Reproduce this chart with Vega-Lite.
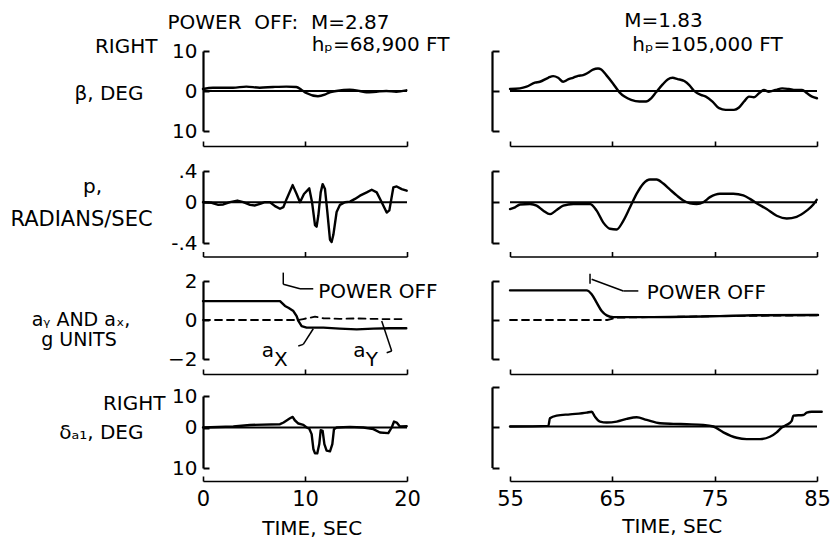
{
"$schema": "https://vega.github.io/schema/vega-lite/v6.json",
"background": "white",
"padding": {"left": 9, "top": 10, "right": 0, "bottom": 0},
"config": {
  "view": {"stroke": null},
  "font": "DejaVu Sans",
  "axis": {"grid": false, "labelFlush": false, "labelOverlap": false, "domainColor": "#000", "tickColor": "#000", "labelColor": "#000", "titleColor": "#000", "labelFont": "DejaVu Sans", "titleFont": "DejaVu Sans", "labelFontSize": 20, "titleFontSize": 20, "titleFontWeight": "normal", "titleAngle": 0},
  "line": {"color": "#000", "strokeWidth": 2.4, "strokeCap": "round", "strokeJoin": "round"},
  "rule": {"color": "#000", "strokeWidth": 2},
  "text": {"color": "#000", "font": "DejaVu Sans", "fontSize": 20}
},
"datasets": {
  "one": [{}],
  "bL": [{"t":0,"v":0.5},{"t":0.98,"v":0.83},{"t":2.94,"v":0.83},{"t":4.25,"v":1.1},{"t":5.56,"v":0.83},{"t":6.86,"v":1.0},{"t":8.17,"v":1.1},{"t":9.15,"v":1.0},{"t":9.64,"v":0.33},{"t":10.13,"v":-0.5},{"t":11.27,"v":-1.3},{"t":11.93,"v":-0.92},{"t":12.42,"v":-0.33},{"t":13.07,"v":0},{"t":14.38,"v":0.33},{"t":15.36,"v":0},{"t":16.01,"v":-0.33},{"t":16.99,"v":-0.17},{"t":17.97,"v":0},{"t":18.95,"v":-0.17},{"t":19.93,"v":0.17}],
  "bR": [{"t":55,"v":0.5},{"t":55.97,"v":0.66},{"t":56.62,"v":1.07},{"t":57.43,"v":2.07},{"t":57.92,"v":2.31},{"t":58.73,"v":3.31},{"t":59.22,"v":3.72},{"t":59.7,"v":3.31},{"t":60.19,"v":2.31},{"t":60.68,"v":2.89},{"t":61.16,"v":3.31},{"t":61.65,"v":3.8},{"t":62.14,"v":3.97},{"t":62.62,"v":4.55},{"t":63.11,"v":5.37},{"t":63.6,"v":5.62},{"t":63.92,"v":5.37},{"t":64.41,"v":3.97},{"t":65.06,"v":1.9},{"t":65.7,"v":-0.33},{"t":66.19,"v":-1.4},{"t":66.84,"v":-2.23},{"t":67.65,"v":-2.64},{"t":68.3,"v":-2.64},{"t":68.79,"v":-1.82},{"t":69.27,"v":-0.33},{"t":69.92,"v":1.65},{"t":70.41,"v":2.89},{"t":70.89,"v":3.31},{"t":71.38,"v":2.98},{"t":72.03,"v":2.48},{"t":72.52,"v":1.49},{"t":73.0,"v":0},{"t":73.65,"v":-0.99},{"t":74.14,"v":-1.4},{"t":74.79,"v":-2.64},{"t":75.43,"v":-4.3},{"t":76.08,"v":-4.71},{"t":76.89,"v":-4.71},{"t":77.38,"v":-4.13},{"t":77.87,"v":-2.64},{"t":78.35,"v":-1.4},{"t":78.84,"v":-1.57},{"t":79.33,"v":-0.58},{"t":79.81,"v":0.25},{"t":80.3,"v":-0.17},{"t":80.95,"v":0.25},{"t":81.6,"v":0.66},{"t":82.25,"v":0.5},{"t":82.89,"v":0.25},{"t":83.54,"v":0.25},{"t":84.03,"v":-0.58},{"t":84.52,"v":-1.4},{"t":85.0,"v":-1.82}],
  "pL": [{"t":0,"v":0},{"t":0.85,"v":-0.006},{"t":1.5,"v":-0.026},{"t":1.99,"v":-0.022},{"t":2.65,"v":0},{"t":3.37,"v":0.021},{"t":3.95,"v":0},{"t":4.61,"v":-0.026},{"t":5.1,"v":-0.032},{"t":5.59,"v":-0.016},{"t":6.08,"v":0},{"t":6.57,"v":0},{"t":7.06,"v":-0.038},{"t":7.55,"v":-0.064},{"t":7.88,"v":-0.048},{"t":8.2,"v":0.042},{"t":8.79,"v":0.219},{"t":9.18,"v":0.105},{"t":9.51,"v":0},{"t":9.9,"v":0.105},{"t":10.42,"v":0.177},{"t":10.69,"v":0},{"t":10.98,"v":-0.224},{"t":11.14,"v":-0.24},{"t":11.31,"v":-0.128},{"t":11.54,"v":0.126},{"t":11.73,"v":0.232},{"t":11.96,"v":0.168},{"t":12.19,"v":-0.096},{"t":12.45,"v":-0.368},{"t":12.61,"v":-0.39},{"t":12.78,"v":-0.32},{"t":13.1,"v":-0.096},{"t":13.43,"v":-0.026},{"t":13.92,"v":0},{"t":14.41,"v":0.008},{"t":14.9,"v":0.042},{"t":15.39,"v":0.084},{"t":16.05,"v":0.126},{"t":16.54,"v":0.16},{"t":17.03,"v":0.126},{"t":17.52,"v":0},{"t":18.01,"v":-0.102},{"t":18.27,"v":-0.08},{"t":18.66,"v":0.189},{"t":18.99,"v":0.202},{"t":19.48,"v":0.168},{"t":19.97,"v":0.147}],
  "pR": [{"t":55,"v":-0.067},{"t":55.49,"v":-0.05},{"t":55.98,"v":-0.023},{"t":56.95,"v":-0.017},{"t":57.6,"v":-0.033},{"t":58.26,"v":-0.083},{"t":58.91,"v":-0.117},{"t":59.56,"v":-0.077},{"t":60.21,"v":-0.033},{"t":61.19,"v":-0.017},{"t":62.82,"v":-0.017},{"t":63.47,"v":-0.083},{"t":64.12,"v":-0.2},{"t":64.77,"v":-0.26},{"t":65.42,"v":-0.267},{"t":66.07,"v":-0.183},{"t":66.73,"v":-0.05},{"t":67.38,"v":0.109},{"t":68.03,"v":0.239},{"t":68.68,"v":0.291},{"t":69.33,"v":0.291},{"t":69.98,"v":0.239},{"t":70.64,"v":0.161},{"t":71.29,"v":0.087},{"t":71.94,"v":0.022},{"t":72.59,"v":-0.01},{"t":73.24,"v":-0.017},{"t":73.89,"v":0},{"t":74.54,"v":0.065},{"t":75.52,"v":0.109},{"t":76.82,"v":0.109},{"t":77.8,"v":0.087},{"t":78.45,"v":0.043},{"t":79.1,"v":-0.01},{"t":80.08,"v":-0.067},{"t":81.06,"v":-0.133},{"t":82.04,"v":-0.16},{"t":83.01,"v":-0.143},{"t":83.99,"v":-0.083},{"t":84.64,"v":-0.023},{"t":84.97,"v":0.03}],
  "axL": [{"t":0,"v":0.97},{"t":7.55,"v":0.97},{"t":8.04,"v":0.72},{"t":8.37,"v":0.63},{"t":8.86,"v":0.46},{"t":9.18,"v":0.2},{"t":9.35,"v":-0.05},{"t":9.67,"v":-0.31},{"t":10.16,"v":-0.39},{"t":11.8,"v":-0.39},{"t":13.4,"v":-0.44},{"t":15.07,"v":-0.48},{"t":16.7,"v":-0.44},{"t":18.3,"v":-0.42},{"t":19.93,"v":-0.42}],
  "ayL": [{"t":0,"v":0},{"t":9.3,"v":0},{"t":9.83,"v":0.05},{"t":10.5,"v":0.12},{"t":10.98,"v":0.17},{"t":11.8,"v":0.09},{"t":13.4,"v":0.06},{"t":15.07,"v":0.08},{"t":17.35,"v":0.05},{"t":19.93,"v":0.05}],
  "axR": [{"t":55,"v":1.52},{"t":62.49,"v":1.52},{"t":62.98,"v":1.32},{"t":63.47,"v":0.89},{"t":63.96,"v":0.46},{"t":64.45,"v":0.24},{"t":65.1,"v":0.15},{"t":69,"v":0.15},{"t":75.5,"v":0.2},{"t":78.8,"v":0.24},{"t":85.1,"v":0.26}],
  "ayR": [{"t":55,"v":0},{"t":64.5,"v":0},{"t":65.5,"v":0.12},{"t":69,"v":0.15},{"t":75.5,"v":0.2},{"t":85,"v":0.24}],
  "dL": [{"t":0,"v":0},{"t":2.97,"v":0.3},{"t":4.6,"v":0.8},{"t":7.55,"v":1.05},{"t":7.9,"v":1.6},{"t":8.53,"v":2.95},{"t":8.79,"v":3.37},{"t":9.0,"v":2.3},{"t":9.35,"v":1.26},{"t":9.84,"v":0.84},{"t":10.16,"v":0},{"t":10.42,"v":-0.3},{"t":10.65,"v":-1.64},{"t":10.82,"v":-5.3},{"t":10.98,"v":-6.4},{"t":11.2,"v":-6.4},{"t":11.4,"v":-4.1},{"t":11.54,"v":-0.66},{"t":11.73,"v":-0.82},{"t":11.9,"v":-4.1},{"t":12.12,"v":-5.7},{"t":12.45,"v":-5.9},{"t":12.68,"v":-4.1},{"t":12.84,"v":-0.41},{"t":13.1,"v":0},{"t":14.41,"v":0.2},{"t":15.72,"v":0},{"t":16.7,"v":-0.41},{"t":17.35,"v":-1.23},{"t":18.17,"v":-1.39},{"t":18.5,"v":0},{"t":18.73,"v":1.9},{"t":18.99,"v":1.58},{"t":19.3,"v":0.3},{"t":19.97,"v":0.4}],
  "dR": [{"t":55,"v":0},{"t":58.75,"v":0.17},{"t":58.9,"v":2.08},{"t":59.56,"v":2.75},{"t":60.86,"v":3.08},{"t":62.49,"v":3.5},{"t":62.98,"v":3.75},{"t":63.3,"v":2.5},{"t":63.8,"v":1.25},{"t":64.45,"v":1.0},{"t":65.43,"v":1.25},{"t":66.4,"v":1.92},{"t":67.38,"v":2.33},{"t":68.36,"v":1.67},{"t":69.66,"v":0.83},{"t":70.96,"v":0.67},{"t":72.27,"v":0.58},{"t":73.89,"v":0.42},{"t":74.87,"v":0},{"t":75.85,"v":-1.42},{"t":77.15,"v":-2.75},{"t":78.13,"v":-3.08},{"t":79.43,"v":-3.08},{"t":80.4,"v":-2.5},{"t":81.06,"v":-1.42},{"t":81.55,"v":-0.25},{"t":82.04,"v":0.42},{"t":82.53,"v":1.42},{"t":82.69,"v":2.75},{"t":83.66,"v":2.92},{"t":83.99,"v":3.5},{"t":84.48,"v":3.75},{"t":85.46,"v":3.75}]
},
"columns": 2,
"spacing": {"row": 28, "column": 103},
"bounds": "flush",
"align": "each",
"concat": [
  {"width": 204, "height": 91.5,
   "layer": [
    {"data": {"name": "bL"}, "mark": {"type": "line", "interpolate": "monotone"},
     "encoding": {
      "x": {"field": "t", "type": "quantitative", "scale": {"domain": [0, 20], "nice": false, "zero": false}, "axis": {"orient": "bottom", "offset": 3.5, "values": [0, 10, 20], "tickSize": -5, "labels": false, "domainWidth": 1.6, "tickWidth": 1.6, "title": "hₚ=68,900 FT", "titleX": 177, "titleY": -96, "titleAlign": "center", "titleBaseline": "alphabetic"}},
      "y": {"field": "v", "type": "quantitative", "scale": {"domain": [-10, 10], "range": [80, 0], "nice": false, "zero": false}, "axis": {"orient": "left", "values": [-10, 0, 10], "tickSize": -6, "labelPadding": 12, "domainWidth": 2.2, "tickWidth": 2, "labelExpr": "datum.value == 0 ? '0' : '10'", "title": "RIGHT", "titleX": -46, "titleY": 1, "titleAlign": "right", "titleBaseline": "alphabetic"}}}},
    {"data": {"name": "one"}, "mark": {"type": "rule"},
     "encoding": {
      "x": {"datum": 0, "scale": {"domain": [0, 20], "nice": false, "zero": false}, "axis": {"orient": "top", "domain": false, "ticks": false, "labels": false, "title": "POWER\u00a0 OFF:\u00a0 M=2.87", "titleX": 75, "titleY": -22.7, "titleAlign": "center", "titleBaseline": "alphabetic"}},
      "x2": {"datum": 20},
      "y": {"datum": 0, "scale": {"domain": [-10, 10], "range": [80, 0], "nice": false, "zero": false}, "axis": {"orient": "left", "domain": false, "ticks": false, "labels": false, "title": "β, DEG", "titleX": -60, "titleY": 48, "titleAlign": "right", "titleBaseline": "alphabetic"}}}}
   ],
   "resolve": {"axis": {"x": "independent", "y": "independent"}}},
  {"width": 307, "height": 91.5,
   "layer": [
    {"data": {"name": "bR"}, "mark": {"type": "line", "interpolate": "monotone"},
     "encoding": {
      "x": {"field": "t", "type": "quantitative", "scale": {"domain": [55, 85], "nice": false, "zero": false}, "axis": {"orient": "bottom", "offset": 3.5, "values": [55, 65, 75, 85], "tickSize": -5, "labels": false, "domainWidth": 1.6, "tickWidth": 1.6, "title": "hₚ=105,000 FT", "titleX": 197, "titleY": -96, "titleAlign": "center", "titleBaseline": "alphabetic"}},
      "y": {"field": "v", "type": "quantitative", "scale": {"domain": [-10, 10], "range": [80, 0], "nice": false, "zero": false}, "axis": {"orient": "left", "offset": 18, "values": [-10, 0, 10], "tickSize": -7, "labels": false, "domainWidth": 2.2, "tickWidth": 2, "title": null}}}},
    {"data": {"name": "one"}, "mark": {"type": "rule"},
     "encoding": {
      "x": {"datum": 55, "scale": {"domain": [55, 85], "nice": false, "zero": false}, "axis": {"orient": "top", "domain": false, "ticks": false, "labels": false, "title": "M=1.83", "titleX": 153, "titleY": -24.3, "titleAlign": "center", "titleBaseline": "alphabetic"}},
      "x2": {"datum": 85},
      "y": {"datum": 0, "scale": {"domain": [-10, 10], "range": [80, 0], "nice": false, "zero": false}, "axis": null}}}
   ],
   "resolve": {"axis": {"x": "independent", "y": "independent"}}},
  {"width": 204, "height": 81.5,
   "layer": [
    {"data": {"name": "pL"}, "mark": {"type": "line"},
     "encoding": {
      "x": {"field": "t", "type": "quantitative", "scale": {"domain": [0, 20], "nice": false, "zero": false}, "axis": {"orient": "bottom", "offset": 4, "values": [0, 10, 20], "tickSize": -5, "labels": false, "domainWidth": 1.6, "tickWidth": 1.6, "title": null}},
      "y": {"field": "v", "type": "quantitative", "scale": {"domain": [-0.4, 0, 0.4], "range": [72, 31.2, 0], "nice": false, "zero": false}, "axis": {"orient": "left", "values": [-0.4, 0, 0.4], "tickSize": -6, "labelPadding": 12, "domainWidth": 2.2, "tickWidth": 2, "labelExpr": "datum.value == 0 ? '0' : (datum.value > 0 ? '.4' : '-.4')", "title": "p,", "titleX": -111, "titleY": 21.5, "titleAlign": "center", "titleBaseline": "alphabetic"}}}},
    {"data": {"name": "one"}, "mark": {"type": "rule"},
     "encoding": {
      "y": {"datum": 0, "scale": {"domain": [-0.4, 0, 0.4], "range": [72, 31.2, 0], "nice": false, "zero": false}, "axis": {"orient": "left", "domain": false, "ticks": false, "labels": false, "title": "RADIANS/SEC", "titleFontSize": 21, "titleX": -122, "titleY": 54.5, "titleAlign": "center", "titleBaseline": "alphabetic"}}}}
   ],
   "resolve": {"axis": {"x": "independent", "y": "independent"}}},
  {"width": 307, "height": 81.5,
   "layer": [
    {"data": {"name": "pR"}, "mark": {"type": "line", "interpolate": "monotone"},
     "encoding": {
      "x": {"field": "t", "type": "quantitative", "scale": {"domain": [55, 85], "nice": false, "zero": false}, "axis": {"orient": "bottom", "offset": 4, "values": [55, 65, 75, 85], "tickSize": -5, "labels": false, "domainWidth": 1.6, "tickWidth": 1.6, "title": null}},
      "y": {"field": "v", "type": "quantitative", "scale": {"domain": [-0.4, 0, 0.4], "range": [72, 31.2, 0], "nice": false, "zero": false}, "axis": {"orient": "left", "offset": 18, "values": [-0.4, 0, 0.4], "tickSize": -7, "labels": false, "domainWidth": 2.2, "tickWidth": 2, "title": null}}}},
    {"data": {"name": "one"}, "mark": {"type": "rule"},
     "encoding": {
      "y": {"datum": 0, "scale": {"domain": [-0.4, 0, 0.4], "range": [72, 31.2, 0], "nice": false, "zero": false}, "axis": null}}}
   ],
   "resolve": {"axis": {"x": "independent", "y": "independent"}}},
  {"width": 204, "height": 78,
   "layer": [
    {"data": {"name": "axL"}, "mark": {"type": "line"},
     "encoding": {
      "x": {"field": "t", "type": "quantitative", "scale": {"domain": [0, 20], "nice": false, "zero": false}, "axis": {"orient": "bottom", "offset": 15, "values": [0, 10, 20], "tickSize": -5, "labels": false, "domainWidth": 1.6, "tickWidth": 1.6, "title": null}},
      "y": {"field": "v", "type": "quantitative", "scale": {"domain": [-2, 2], "range": [78, 0], "nice": false, "zero": false}, "axis": {"orient": "left", "values": [-2, 0, 2], "tickSize": -6, "labelPadding": 12, "domainWidth": 2.2, "tickWidth": 2, "labelExpr": "datum.value == 0 ? '0' : (datum.value > 0 ? '2' : '−2')", "title": "aᵧ AND aₓ,", "titleFontSize": 19, "titleX": -122.5, "titleY": 44, "titleAlign": "center", "titleBaseline": "alphabetic"}}}},
    {"data": {"name": "ayL"}, "mark": {"type": "line", "strokeDash": [7, 5], "strokeWidth": 1.8},
     "encoding": {
      "x": {"field": "t", "type": "quantitative", "scale": {"domain": [0, 20], "nice": false, "zero": false}, "axis": null},
      "y": {"field": "v", "type": "quantitative", "scale": {"domain": [-2, 2], "range": [78, 0], "nice": false, "zero": false}, "axis": {"orient": "left", "domain": false, "ticks": false, "labels": false, "title": "g UNITS", "titleFontSize": 19, "titleX": -124.5, "titleY": 64, "titleAlign": "center", "titleBaseline": "alphabetic"}}}},
    {"data": {"name": "one"}, "mark": {"type": "rule", "strokeWidth": 1.5}, "encoding": {"x": {"datum": 7.87, "scale": {"domain": [0, 20], "nice": false, "zero": false}, "axis": null}, "x2": {"datum": 7.87}, "y": {"datum": 2.43, "scale": {"domain": [-2, 2], "range": [78, 0], "nice": false, "zero": false}, "axis": null}, "y2": {"datum": 1.83}}},
    {"data": {"name": "one"}, "mark": {"type": "rule", "strokeWidth": 1.5}, "encoding": {"x": {"datum": 7.87, "scale": {"domain": [0, 20], "nice": false, "zero": false}, "axis": null}, "x2": {"datum": 9.51}, "y": {"datum": 1.83, "scale": {"domain": [-2, 2], "range": [78, 0], "nice": false, "zero": false}, "axis": null}, "y2": {"datum": 1.6}}},
    {"data": {"name": "one"}, "mark": {"type": "rule", "strokeWidth": 1.5}, "encoding": {"x": {"datum": 9.51, "scale": {"domain": [0, 20], "nice": false, "zero": false}, "axis": null}, "x2": {"datum": 10.81}, "y": {"datum": 1.6, "scale": {"domain": [-2, 2], "range": [78, 0], "nice": false, "zero": false}, "axis": null}, "y2": {"datum": 1.6}}},
    {"data": {"name": "one"}, "mark": {"type": "rule", "strokeWidth": 1.5}, "encoding": {"x": {"datum": 10.81, "scale": {"domain": [0, 20], "nice": false, "zero": false}, "axis": null}, "x2": {"datum": 9.83}, "y": {"datum": -0.45, "scale": {"domain": [-2, 2], "range": [78, 0], "nice": false, "zero": false}, "axis": null}, "y2": {"datum": -1.25}}},
    {"data": {"name": "one"}, "mark": {"type": "rule", "strokeWidth": 1.5}, "encoding": {"x": {"datum": 9.83, "scale": {"domain": [0, 20], "nice": false, "zero": false}, "axis": null}, "x2": {"datum": 9.34}, "y": {"datum": -1.25, "scale": {"domain": [-2, 2], "range": [78, 0], "nice": false, "zero": false}, "axis": null}, "y2": {"datum": -1.33}}},
    {"data": {"name": "one"}, "mark": {"type": "rule", "strokeWidth": 1.5}, "encoding": {"x": {"datum": 17.52, "scale": {"domain": [0, 20], "nice": false, "zero": false}, "axis": null}, "x2": {"datum": 18.5}, "y": {"datum": -0.05, "scale": {"domain": [-2, 2], "range": [78, 0], "nice": false, "zero": false}, "axis": null}, "y2": {"datum": -1.59}}},
    {"data": {"name": "one"}, "mark": {"type": "rule", "strokeWidth": 1.5}, "encoding": {"x": {"datum": 18.5, "scale": {"domain": [0, 20], "nice": false, "zero": false}, "axis": null}, "x2": {"datum": 18.01}, "y": {"datum": -1.59, "scale": {"domain": [-2, 2], "range": [78, 0], "nice": false, "zero": false}, "axis": null}, "y2": {"datum": -1.68}}},
    {"data": {"name": "one"}, "mark": {"type": "text", "align": "left", "baseline": "alphabetic"}, "encoding": {"x": {"datum": 11.3, "scale": {"domain": [0, 20], "nice": false, "zero": false}, "axis": null}, "y": {"datum": 1.14, "scale": {"domain": [-2, 2], "range": [78, 0], "nice": false, "zero": false}, "axis": null}, "text": {"value": "POWER OFF"}}},
    {"data": {"name": "one"}, "mark": {"type": "text", "align": "left", "baseline": "alphabetic"}, "encoding": {"x": {"datum": 5.75, "scale": {"domain": [0, 20], "nice": false, "zero": false}, "axis": null}, "y": {"datum": -1.88, "scale": {"domain": [-2, 2], "range": [78, 0], "nice": false, "zero": false}, "axis": null}, "text": {"value": "a"}}},
    {"data": {"name": "one"}, "mark": {"type": "text", "align": "left", "baseline": "alphabetic"}, "encoding": {"x": {"datum": 6.95, "scale": {"domain": [0, 20], "nice": false, "zero": false}, "axis": null}, "y": {"datum": -2.36, "scale": {"domain": [-2, 2], "range": [78, 0], "nice": false, "zero": false}, "axis": null}, "text": {"value": "X"}}},
    {"data": {"name": "one"}, "mark": {"type": "text", "align": "left", "baseline": "alphabetic"}, "encoding": {"x": {"datum": 14.74, "scale": {"domain": [0, 20], "nice": false, "zero": false}, "axis": null}, "y": {"datum": -1.88, "scale": {"domain": [-2, 2], "range": [78, 0], "nice": false, "zero": false}, "axis": null}, "text": {"value": "a"}}},
    {"data": {"name": "one"}, "mark": {"type": "text", "align": "left", "baseline": "alphabetic"}, "encoding": {"x": {"datum": 15.95, "scale": {"domain": [0, 20], "nice": false, "zero": false}, "axis": null}, "y": {"datum": -2.36, "scale": {"domain": [-2, 2], "range": [78, 0], "nice": false, "zero": false}, "axis": null}, "text": {"value": "Y"}}}
   ],
   "resolve": {"axis": {"x": "independent", "y": "independent"}}},
  {"width": 307, "height": 78,
   "layer": [
    {"data": {"name": "axR"}, "mark": {"type": "line", "interpolate": "monotone"},
     "encoding": {
      "x": {"field": "t", "type": "quantitative", "scale": {"domain": [55, 85], "nice": false, "zero": false}, "axis": {"orient": "bottom", "offset": 15, "values": [55, 65, 75, 85], "tickSize": -5, "labels": false, "domainWidth": 1.6, "tickWidth": 1.6, "title": null}},
      "y": {"field": "v", "type": "quantitative", "scale": {"domain": [-2, 2], "range": [78, 0], "nice": false, "zero": false}, "axis": {"orient": "left", "offset": 18, "values": [-2, 0, 2], "tickSize": -7, "labels": false, "domainWidth": 2.2, "tickWidth": 2, "title": null}}}},
    {"data": {"name": "ayR"}, "mark": {"type": "line", "strokeDash": [7, 5], "strokeWidth": 1.8},
     "encoding": {
      "x": {"field": "t", "type": "quantitative", "scale": {"domain": [55, 85], "nice": false, "zero": false}, "axis": null},
      "y": {"field": "v", "type": "quantitative", "scale": {"domain": [-2, 2], "range": [78, 0], "nice": false, "zero": false}, "axis": null}}},
    {"data": {"name": "one"}, "mark": {"type": "rule", "strokeWidth": 1.5}, "encoding": {"x": {"datum": 62.82, "scale": {"domain": [55, 85], "nice": false, "zero": false}, "axis": null}, "x2": {"datum": 62.82}, "y": {"datum": 2.37, "scale": {"domain": [-2, 2], "range": [78, 0], "nice": false, "zero": false}, "axis": null}, "y2": {"datum": 1.86}}},
    {"data": {"name": "one"}, "mark": {"type": "rule", "strokeWidth": 1.5}, "encoding": {"x": {"datum": 62.98, "scale": {"domain": [55, 85], "nice": false, "zero": false}, "axis": null}, "x2": {"datum": 66.07}, "y": {"datum": 2.09, "scale": {"domain": [-2, 2], "range": [78, 0], "nice": false, "zero": false}, "axis": null}, "y2": {"datum": 1.49}}},
    {"data": {"name": "one"}, "mark": {"type": "rule", "strokeWidth": 1.5}, "encoding": {"x": {"datum": 66.07, "scale": {"domain": [55, 85], "nice": false, "zero": false}, "axis": null}, "x2": {"datum": 67.54}, "y": {"datum": 1.49, "scale": {"domain": [-2, 2], "range": [78, 0], "nice": false, "zero": false}, "axis": null}, "y2": {"datum": 1.49}}},
    {"data": {"name": "one"}, "mark": {"type": "text", "align": "left", "baseline": "alphabetic"}, "encoding": {"x": {"datum": 68.36, "scale": {"domain": [55, 85], "nice": false, "zero": false}, "axis": null}, "y": {"datum": 1.06, "scale": {"domain": [-2, 2], "range": [78, 0], "nice": false, "zero": false}, "axis": null}, "text": {"value": "POWER OFF"}}}
   ],
   "resolve": {"axis": {"x": "independent", "y": "independent"}}},
  {"width": 204, "height": 81,
   "layer": [
    {"data": {"name": "dL"}, "mark": {"type": "line"},
     "encoding": {
      "x": {"field": "t", "type": "quantitative", "scale": {"domain": [0, 20], "nice": false, "zero": false}, "axis": {"orient": "bottom", "offset": 13, "values": [0, 10, 20], "tickSize": -5, "labelPadding": 12, "labelFontSize": 21, "domainWidth": 1.6, "tickWidth": 1.6, "title": "TIME, SEC", "titleX": 108.7, "titleY": 53, "titleAlign": "center", "titleBaseline": "alphabetic"}},
      "y": {"field": "v", "type": "quantitative", "scale": {"domain": [-10, 0, 10], "range": [81, 40.5, 9], "nice": false, "zero": false}, "axis": {"orient": "left", "values": [-10, 0, 10], "tickSize": -6, "labelPadding": 12, "domainWidth": 2.2, "tickWidth": 2, "labelExpr": "datum.value == 0 ? '0' : '10'", "title": "RIGHT", "titleX": -38, "titleY": 22, "titleAlign": "right", "titleBaseline": "alphabetic"}}}},
    {"data": {"name": "one"}, "mark": {"type": "rule"},
     "encoding": {
      "y": {"datum": 0, "scale": {"domain": [-10, 0, 10], "range": [81, 40.5, 9], "nice": false, "zero": false}, "axis": {"orient": "left", "domain": false, "ticks": false, "labels": false, "title": "δₐ₁, DEG", "titleX": -60, "titleY": 51, "titleAlign": "right", "titleBaseline": "alphabetic"}}}}
   ],
   "resolve": {"axis": {"x": "independent", "y": "independent"}}},
  {"width": 307, "height": 81,
   "layer": [
    {"data": {"name": "dR"}, "mark": {"type": "line", "interpolate": "monotone"},
     "encoding": {
      "x": {"field": "t", "type": "quantitative", "scale": {"domain": [55, 85], "nice": false, "zero": false}, "axis": {"orient": "bottom", "offset": 13, "values": [55, 65, 75, 85], "tickSize": -5, "labelPadding": 12, "labelFontSize": 21, "domainWidth": 1.6, "tickWidth": 1.6, "title": "TIME, SEC", "titleX": 161.7, "titleY": 51.7, "titleAlign": "center", "titleBaseline": "alphabetic"}},
      "y": {"field": "v", "type": "quantitative", "scale": {"domain": [-10, 0, 10], "range": [80.5, 39.5, 0], "nice": false, "zero": false}, "axis": {"orient": "left", "offset": 18, "values": [-10, 0, 10], "tickSize": -7, "labels": false, "domainWidth": 2.2, "tickWidth": 2, "title": null}}}},
    {"data": {"name": "one"}, "mark": {"type": "rule"},
     "encoding": {
      "y": {"datum": 0, "scale": {"domain": [-10, 0, 10], "range": [80.5, 39.5, 0], "nice": false, "zero": false}, "axis": null}}}
   ],
   "resolve": {"axis": {"x": "independent", "y": "independent"}}}
]
}
